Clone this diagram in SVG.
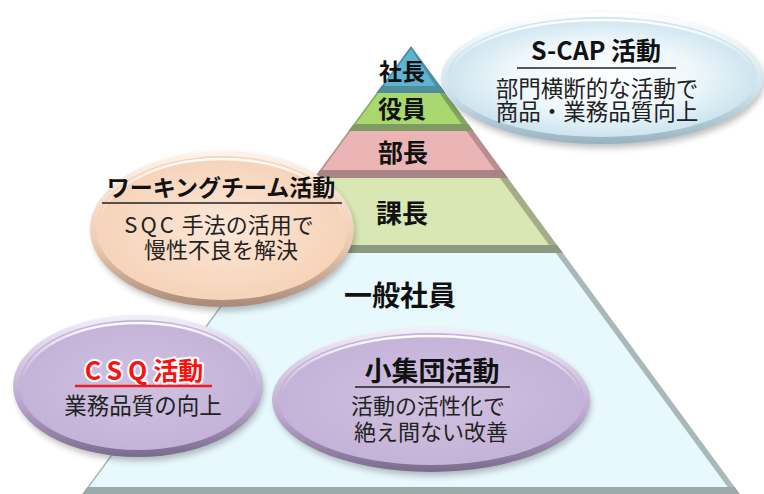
<svg xmlns="http://www.w3.org/2000/svg" width="764" height="494" viewBox="0 0 764 494">
  <defs>
    <style>
      .lbl{font-family:"Noto Sans CJK JP","Noto Sans",sans-serif;font-weight:bold;fill:#111;text-anchor:middle}
      .ttl{font-family:"Noto Sans CJK JP","Noto Sans",sans-serif;font-weight:bold;fill:#111;text-anchor:middle}
      .sub{font-family:"Noto Sans CJK JP","Noto Sans",sans-serif;fill:#222;text-anchor:middle}
      .red{font-family:"Noto Sans CJK JP","Noto Sans",sans-serif;font-weight:bold;fill:#ff1010;stroke:#fff;stroke-width:4;paint-order:stroke;stroke-linejoin:round;text-anchor:middle}
      .ul{stroke:#222;stroke-width:1.6}
      .ulr{stroke:#ee1c24;stroke-width:2.6}
      .hl{fill:none;stroke:url(#hl);stroke-width:2.5}
    </style>
    <filter id="sh" x="-10%" y="-10%" width="120%" height="130%">
      <feGaussianBlur stdDeviation="3"/>
    </filter>
    <linearGradient id="hl" x1="0" y1="0" x2="0" y2="1">
      <stop offset="0" stop-color="#fff" stop-opacity="0.95"/>
      <stop offset="0.45" stop-color="#fff" stop-opacity="0"/>
    </linearGradient>
    <linearGradient id="scapRim" x1="0" y1="0" x2="0" y2="1">
      <stop offset="0" stop-color="#ffffff"/>
      <stop offset="0.6" stop-color="#cfe3ec"/>
      <stop offset="1" stop-color="#98b3c0"/>
    </linearGradient>
    <radialGradient id="scapFace" cx="0.5" cy="0.5" r="0.5">
      <stop offset="0" stop-color="#ffffff"/>
      <stop offset="0.6" stop-color="#eef7fb"/>
      <stop offset="1" stop-color="#cde4ef"/>
    </radialGradient>
    <linearGradient id="peachRim" x1="0" y1="0" x2="0" y2="1">
      <stop offset="0" stop-color="#fff4ec"/>
      <stop offset="0.6" stop-color="#eccbb3"/>
      <stop offset="1" stop-color="#a88a78"/>
    </linearGradient>
    <radialGradient id="peachFace" cx="0.5" cy="0.5" r="0.5">
      <stop offset="0" stop-color="#fce7d7"/>
      <stop offset="1" stop-color="#f6d3b9"/>
    </radialGradient>
    <linearGradient id="lavRim" x1="0" y1="0" x2="0" y2="1">
      <stop offset="0" stop-color="#f3eef8"/>
      <stop offset="0.6" stop-color="#bba9cf"/>
      <stop offset="1" stop-color="#7a6a8c"/>
    </linearGradient>
    <radialGradient id="lavFace" cx="0.5" cy="0.5" r="0.5">
      <stop offset="0" stop-color="#d0c1e0"/>
      <stop offset="1" stop-color="#c4b3d8"/>
    </radialGradient>
  </defs>

  <rect width="764" height="494" fill="#ffffff"/>

  <!-- Pyramid -->
  <g id="pyramid">
    <g id="layer-shacho">
      <polygon points="411,46 445.5,93 376.5,93" fill="#4b8fa3"/>
      <polygon points="411,49 435.4,86 383.6,86" fill="#5fb4cf"/>
      <polygon points="381.6,86 440.4,86 445.5,93 376.5,93" fill="#4f8e9a"/>
      <text class="lbl" x="402" y="80" font-size="23">社長</text>
    </g>
    <g id="layer-yakuin">
      <polygon points="376.5,93 445.5,93 473.4,131 348.6,131" fill="#84a862"/>
      <polygon points="378.5,93 439.5,93 461.3,124 355.7,124" fill="#a9d96e"/>
      <polygon points="353.7,124 468.3,124 473.4,131 348.6,131" fill="#7f9a62"/>
      <text class="lbl" x="402" y="118" font-size="24">役員</text>
    </g>
    <g id="layer-bucho">
      <polygon points="348.6,131 473.4,131 507.9,178 314.1,178" fill="#b88e90"/>
      <polygon points="350.6,131 466.4,131 495,170 322,170" fill="#ebb5b6"/>
      <polygon points="320,170 502,170 507.9,178 314.1,178" fill="#a88486"/>
      <text class="lbl" x="403" y="162" font-size="25">部長</text>
    </g>
    <g id="layer-kacho">
      <polygon points="314.1,178 507.9,178 562.9,253 259.1,253" fill="#a3ae89"/>
      <polygon points="316.1,178 499.9,178 549.1,245 266.9,245" fill="#d8e7b3"/>
      <polygon points="264.9,245 557.1,245 562.9,253 259.1,253" fill="#8d9a80"/>
      <text class="lbl" x="402" y="223" font-size="26">課長</text>
    </g>
    <g id="layer-ippan">
      <polygon points="259.1,253 562.9,253 739.8,494 82.2,494" fill="#a9b9ba"/>
      <polygon points="261.1,253 555.9,253 727.7,487 89.3,487" fill="#e8f9fd"/>
      <polygon points="87.3,487 734.7,487 739.8,494 82.2,494" fill="#9aa9a9"/>
      <text class="lbl" x="400" y="306" font-size="28">一般社員</text>
    </g>
  </g>

  <!-- S-CAP oval -->
  <g id="scap">
    <ellipse cx="604" cy="82" rx="160" ry="66" fill="#000" opacity="0.25" filter="url(#sh)"/>
    <ellipse cx="602" cy="78" rx="161" ry="66" fill="url(#scapRim)"/>
    <ellipse cx="602" cy="77" rx="155" ry="60" fill="url(#scapFace)"/>
    <ellipse cx="602" cy="77" rx="152" ry="57" class="hl"/>
    <text class="ttl" x="596" y="60" font-size="25">S-CAP 活動</text>
    <line class="ul" x1="517" y1="68" x2="676" y2="68"/>
    <text class="sub" x="597" y="97" font-size="22.5">部門横断的な活動で</text>
    <text class="sub" x="597" y="120" font-size="22.5">商品・業務品質向上</text>
  </g>

  <!-- Working team oval -->
  <g id="working">
    <ellipse cx="224" cy="233" rx="131" ry="78" fill="#000" opacity="0.25" filter="url(#sh)"/>
    <ellipse cx="222" cy="229" rx="132" ry="78" fill="url(#peachRim)"/>
    <ellipse cx="222" cy="228" rx="126" ry="72" fill="url(#peachFace)"/>
    <ellipse cx="222" cy="228" rx="123" ry="69" class="hl"/>
    <text class="ttl" x="221" y="196" font-size="23">ワーキングチーム活動</text>
    <line class="ul" x1="102" y1="203" x2="342" y2="203"/>
    <text class="sub" x="219" y="233" font-size="22"><tspan letter-spacing="3">SQC</tspan> 手法の活用で</text>
    <text class="sub" x="221" y="258" font-size="22">慢性不良を解決</text>
  </g>

  <!-- CSQ oval -->
  <g id="csq">
    <ellipse cx="140" cy="390" rx="124" ry="71" fill="#000" opacity="0.25" filter="url(#sh)"/>
    <ellipse cx="138" cy="386" rx="125" ry="71" fill="url(#lavRim)"/>
    <ellipse cx="138" cy="385" rx="119" ry="65" fill="url(#lavFace)"/>
    <ellipse cx="138" cy="385" rx="116" ry="62" class="hl"/>
    <text class="red" x="144" y="380" font-size="25"><tspan letter-spacing="6">CSQ</tspan>活動</text>
    <line class="ulr" x1="75" y1="386" x2="212" y2="386"/>
    <text class="sub" x="143" y="414" font-size="22.5">業務品質の向上</text>
  </g>

  <!-- Small group oval -->
  <g id="shoshudan">
    <ellipse cx="433" cy="404" rx="158" ry="72" fill="#000" opacity="0.25" filter="url(#sh)"/>
    <ellipse cx="431" cy="400" rx="159" ry="72" fill="url(#lavRim)"/>
    <ellipse cx="431" cy="399" rx="153" ry="66" fill="url(#lavFace)"/>
    <ellipse cx="431" cy="399" rx="150" ry="63" class="hl"/>
    <text class="ttl" x="432" y="381" font-size="27">小集団活動</text>
    <line class="ul" x1="355" y1="387" x2="510" y2="387"/>
    <text class="sub" x="428" y="414" font-size="22">活動の活性化で</text>
    <text class="sub" x="431" y="440" font-size="22">絶え間ない改善</text>
  </g>
</svg>
